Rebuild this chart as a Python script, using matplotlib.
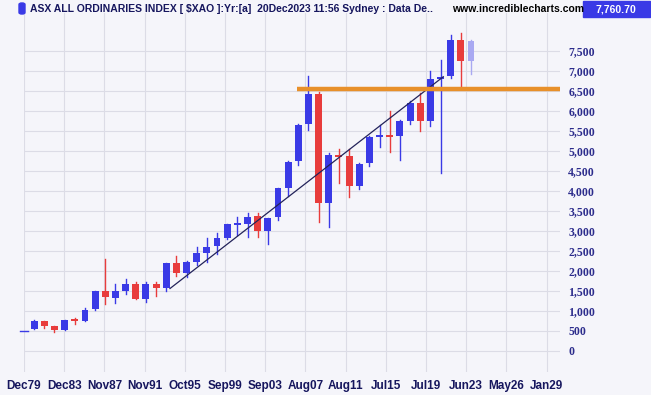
import matplotlib
matplotlib.use("Agg")
import matplotlib.pyplot as plt
from matplotlib.patches import FancyBboxPatch

# yearly candles, ASX All Ordinaries
years = list(range(1979, 2024))
opens = [500, 540, 750, 617, 533, 808, 750, 1042, 1492, 1325,
         1492, 1683, 1292, 1667, 1575, 2192, 1942, 2217, 2442, 2625,
         2817, 3150, 3175, 3375, 3008, 3342, 4083, 4733, 5667, 6425,
         3692, 4880, 4875, 4133, 4692, 5358, 5400, 5358, 5733, 6192,
         5733, 6800, 6858, 7775, 7232]
highs = [500, 785, 760, 617, 783, 835, 1075, 1492, 2308, 1667,
         1792, 1725, 1725, 1725, 2200, 2375, 2250, 2600, 2817, 2935,
         3175, 3358, 3458, 3458, 3330, 4080, 4740, 5660, 6875, 6467,
         4950, 5042, 5042, 4700, 5375, 5650, 5983, 5760, 6233, 6442,
         6983, 7275, 7900, 7942, 7775]
lows = [500, 540, 585, 475, 520, 685, 740, 1030, 1183, 1200,
        1435, 1290, 1225, 1367, 1500, 1875, 1850, 2142, 2233, 2417,
        2785, 2900, 2835, 2842, 2675, 3275, 3875, 4650, 5525, 3233,
        3108, 4208, 3858, 4050, 4625, 5083, 4958, 4775, 5667, 5483,
        5625, 4458, 6817, 6608, 6917]
closes = [500, 750, 617, 533, 783, 750, 1017, 1492, 1350, 1492,
          1667, 1292, 1683, 1575, 2200, 1942, 2217, 2442, 2608, 2817,
          3175, 3175, 3358, 3008, 3317, 4067, 4725, 5650, 6425, 3692,
          4900, 4858, 4133, 4675, 5342, 5400, 5350, 5733, 6192, 5733,
          6800, 6850, 7775, 7232, 7750]

tick_labels = ["Dec79", "Dec83", "Nov87", "Nov91", "Oct95", "Sep99", "Sep03",
               "Aug07", "Aug11", "Jul15", "Jul19", "Jun23", "May26", "Jan29"]
y_ticks = list(range(0, 8000, 500))

# trend line (1993 low -> 2020) and resistance level
trend_x = [1993.37, 2020.27]
trend_y = [1560, 6850]
support_start = 2005.85
support_level = 6542
last_price = "7,760.70"

bg = "#f5f5fa"
blue = "#3a3ae6"
red = "#e83c3c"
light = "#a9a9f2"
navy = "#16165e"

fig = plt.figure(figsize=(6.51, 3.95), dpi=100, facecolor=bg)
ax = fig.add_axes([24/651, 1 - 372/395, (560-24)/651, (372-13)/395])
ax.set_facecolor(bg)

x0 = years[0]
w = 0.68
for i, yr in enumerate(years):
    x = yr - x0
    o, h, l, c = opens[i], highs[i], lows[i], closes[i]
    if i == len(years) - 1:
        col = light
    elif c >= o:
        col = blue
    else:
        col = red
    ax.plot([x, x], [l, h], color=col, lw=1.0, zorder=3, clip_on=False)
    bottom = min(o, c)
    height = max(abs(c - o), 45)
    if abs(c - o) < 45:
        bottom = (o + c) / 2 - 22
    if h == l:
        ax.plot([x - w*0.6, x + w*0.6], [o, o], color=col, lw=1.0, zorder=3,
                clip_on=False)
        continue
    ax.bar(x, height, w, bottom=bottom, color=col, zorder=3, linewidth=0)

ax.plot([v - x0 for v in trend_x], trend_y, color="#23235a", lw=0.9, zorder=4)
ax.plot([support_start - x0, 52.76], [support_level, support_level],
        color="#e8902a", lw=3.2, zorder=5, solid_capstyle="butt")

ax.set_xlim(0, 52.76)
ax.set_ylim(-525, 8442)

step = 40.2 / 10.16
ax.set_xticks([i * step for i in range(len(tick_labels))])
ax.set_xticklabels(tick_labels, fontfamily="Liberation Sans", fontweight="bold",
                   fontsize=8.5, color=navy)
ax.set_yticks(y_ticks)
ax.set_yticklabels([f"{v:,}" for v in y_ticks], fontfamily="Liberation Serif",
                   fontweight="bold", fontsize=8.5, color="#2c2c8c")
ax.yaxis.tick_right()
ax.tick_params(axis="both", length=0)
ax.tick_params(axis="y", pad=6)
ax.tick_params(axis="x", pad=6)
for s in ax.spines.values():
    s.set_visible(False)
ax.grid(True, color="#dcdce6", lw=0.8, zorder=0)
ax.set_axisbelow(True)

# header line
fig.patches.append(FancyBboxPatch((19/651, 1 - 14/395), 6/651, 11/395,
                                  boxstyle="round,pad=0,rounding_size=0.004",
                                  transform=fig.transFigure, color="#3a3ae6"))
fig.text(30/651, 1 - 9/395,
         "ASX ALL ORDINARIES INDEX [ $XAO ]:Yr:[a]  20Dec2023 11:56 Sydney : Data De..",
         fontfamily="Liberation Sans", fontweight="bold", fontsize=7.5,
         color=navy, va="center", ha="left")
fig.text(452/651, 1 - 9/395, "www.incrediblecharts.com",
         fontfamily="Liberation Sans", fontweight="bold", fontsize=7.5,
         color="black", va="center", ha="left")
fig.patches.append(plt.Rectangle((583/651, 1 - 17/395), 67/651, 16/395,
                                 transform=fig.transFigure, color="#3a3ae6"))
fig.text(616/651, 1 - 9/395, last_price, fontfamily="Liberation Sans",
         fontweight="bold", fontsize=7.5, color="white", va="center", ha="center")

fig.savefig("out.png", dpi=100, facecolor=bg)
